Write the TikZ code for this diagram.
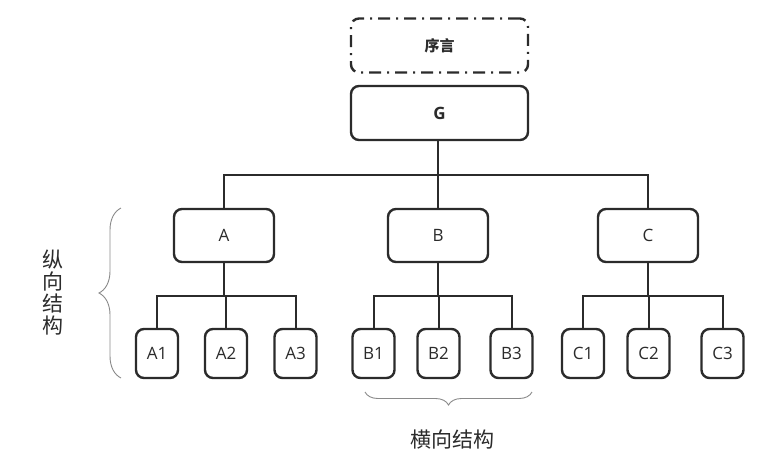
\documentclass[tikz,border=0pt]{standalone}
\usepackage{fontspec}
\setmainfont{Open Sans}
\newfontfamily\cjk{Noto Sans CJK SC}
\usetikzlibrary{decorations.pathreplacing}
\definecolor{ink}{HTML}{2B2B2B}
\definecolor{brc}{HTML}{8A8A8A}
\tikzset{
  box/.style={draw=ink, line width=2.4pt, rounded corners=8pt, inner sep=0pt, font=\fontsize{17}{17}\selectfont, text=ink},
  bigbox/.style={box, minimum width=177pt, minimum height=54pt},
  midbox/.style={box, minimum width=100pt, minimum height=53pt},
  leaf/.style={box, minimum width=42pt, minimum height=49pt},
  conn/.style={draw=ink, line width=2pt},
  bracestyle/.style={draw=brc, line width=0.9pt, decorate},
  lbl/.style={text=ink, font=\cjk\fontsize{21}{22}\selectfont, inner sep=0pt},
}
\begin{document}
\begin{tikzpicture}[x=1pt, y=-1pt]
\useasboundingbox (0,0) rectangle (759,459);
\node[bigbox, dash pattern=on 12pt off 6pt on 2pt off 6pt] (pre) at (439.5,45.5) {\cjk\bfseries\fontsize{15}{15}\selectfont 序言};
\node[bigbox] (G) at (439.5,113) {\bfseries G};
\node[midbox] (A) at (224,235.5) {A};
\node[midbox] (B) at (438,235.5) {B};
\node[midbox] (C) at (648,235.5) {C};
\node[leaf] (A1) at (157,353.5) {A1};
\node[leaf] (A2) at (226,353.5) {A2};
\node[leaf] (A3) at (295.5,353.5) {A3};
\node[leaf] (B1) at (373.5,353.5) {B1};
\node[leaf] (B2) at (438.5,353.5) {B2};
\node[leaf] (B3) at (511.5,353.5) {B3};
\node[leaf] (C1) at (583,353.5) {C1};
\node[leaf] (C2) at (648.5,353.5) {C2};
\node[leaf] (C3) at (722.5,353.5) {C3};
\coordinate (gBus) at (438,175);
\coordinate (aBus) at (224,296);
\coordinate (bBus) at (438,296);
\coordinate (cBus) at (648,296);
\draw[conn] (G.south -| gBus) -- (gBus);
\draw[conn] (A.north) |- (gBus);
\draw[conn] (B.north) |- (gBus);
\draw[conn] (C.north) |- (gBus);
\draw[conn] (A.south) -- (aBus);
\draw[conn] (A1.north) |- (aBus);
\draw[conn] (A2.north) |- (aBus);
\draw[conn] (A3.north) |- (aBus);
\draw[conn] (B.south) -- (bBus);
\draw[conn] (B1.north) |- (bBus);
\draw[conn] (B2.north) |- (bBus);
\draw[conn] (B3.north) |- (bBus);
\draw[conn] (C.south) -- (cBus);
\draw[conn] (C1.north) |- (cBus);
\draw[conn] (C2.north) |- (cBus);
\draw[conn] (C3.north) |- (cBus);
\coordinate (lb1) at (121,378);
\coordinate (lb2) at (121,208);
\draw[bracestyle, decoration={brace, amplitude=22pt, aspect=0.5}] (lb1) -- (lb2);
\coordinate (bb1) at (532,392);
\coordinate (bb2) at (365,392);
\draw[bracestyle, decoration={brace, amplitude=13pt}] (bb1) -- (bb2);
\node[lbl, align=center] (vlab) at (53,293) {纵\\向\\结\\构};
\node[lbl] (hlab) at (452,440) {横向结构};
\end{tikzpicture}
\end{document}
